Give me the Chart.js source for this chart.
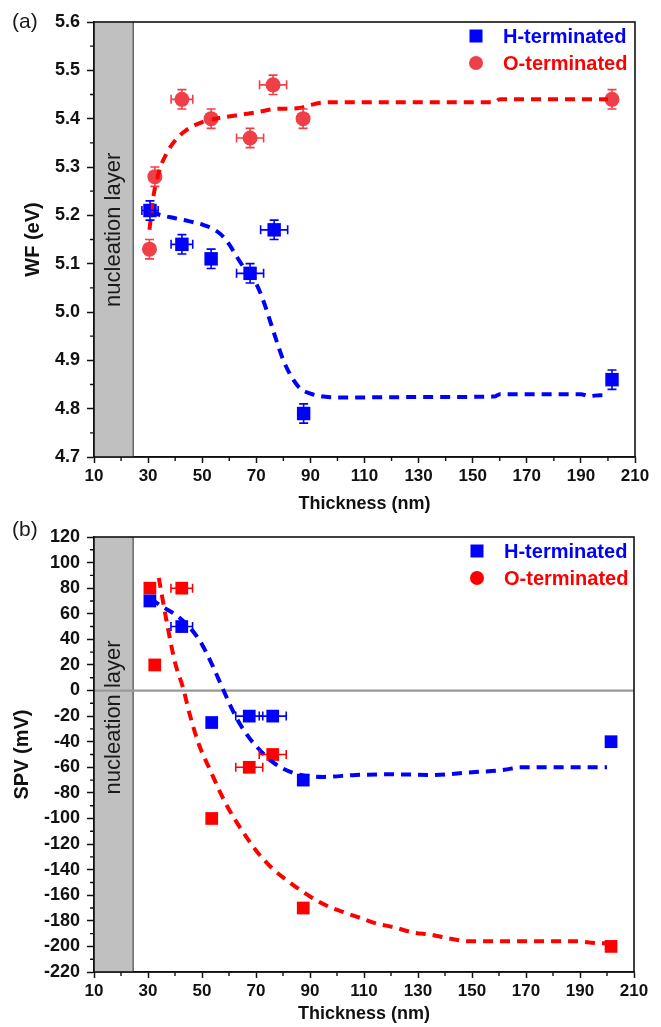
<!DOCTYPE html>
<html><head><meta charset="utf-8">
<script src="https://cdn.jsdelivr.net/npm/chart.js@4"></script>
<style>
html,body{margin:0;padding:0;background:#fff;width:661px;height:1027px;overflow:hidden}
#wa{position:absolute;left:0;top:0;width:661px;height:518px}
#wb{position:absolute;left:0;top:518px;width:661px;height:509px}
</style>
</head><body>
<div id="wa"><canvas id="ca" width="661" height="518"></canvas></div>
<div id="wb"><canvas id="cb" width="661" height="509"></canvas></div>
<script>
// ---------- Panel (a): work function ----------
const wfThickH = [30.7, 42.5, 53.3, 67.7, 76.6, 87.5, 201.5];
const wfH      = [5.21, 5.14, 5.11, 5.08, 5.17, 4.79, 4.86];
const wfH_xErr = [3, 4, 0, 5, 5, 0, 0];
const wfH_yErr = [0.02, 0.02, 0.02, 0.02, 0.02, 0.02, 0.02];

const wfThickO = [30.5, 32.5, 42.5, 53.3, 67.7, 76.2, 87.3, 201.5];
const wfO      = [5.13, 5.28, 5.44, 5.40, 5.36, 5.47, 5.40, 5.44];
const wfO_xErr = [0, 0, 4, 0, 5, 5, 0, 0];
const wfO_yErr = [0.02, 0.02, 0.02, 0.02, 0.02, 0.02, 0.02, 0.02];

const wfFitH_x = [31, 35, 40, 45, 50, 54, 57, 60, 62.5, 66, 70, 72.5, 75, 77.5, 80, 83, 86, 90, 95, 100, 130, 158, 160, 190, 193, 197, 200];
const wfFitH_y = [5.207, 5.2, 5.194, 5.188, 5.181, 5.172, 5.16, 5.14, 5.117, 5.087, 5.058, 5.025, 4.983, 4.94, 4.90, 4.866, 4.843, 4.831, 4.825, 4.823, 4.824, 4.825, 4.83, 4.83, 4.826, 4.828, 4.828];

const wfFitO_x = [30.5, 32, 34, 37, 40, 44, 50, 55, 63, 70, 77, 86, 90, 94, 100, 130, 158, 160, 200];
const wfFitO_y = [5.17, 5.24, 5.29, 5.33, 5.355, 5.376, 5.393, 5.40, 5.407, 5.413, 5.42, 5.422, 5.428, 5.433, 5.434, 5.434, 5.434, 5.44, 5.44];

// ---------- Panel (b): surface photovoltage ----------
const spvThickH = [30.7, 42.5, 53.6, 67.5, 76.2, 87.5, 201.5];
const spvH      = [70, 50, -25, -20, -20, -70, -40];
const spvH_xErr = [0, 4, 0, 5, 5, 0, 0];
const spvH_yErr = [3, 3, 3, 3, 3, 3, 3];

const spvThickO = [30.7, 32.5, 42.5, 53.6, 67.5, 76.2, 87.5, 201.5];
const spvO      = [80, 20, 80, -100, -60, -50, -170, -200];
const spvO_xErr = [0, 0, 4, 0, 5, 5, 0, 0];
const spvO_yErr = [3, 3, 3, 3, 3, 3, 3, 3];

const spvFitH_x = [31, 35, 41, 46, 50, 54, 58, 61, 64, 67.5, 70.3, 73, 76.2, 80, 84, 88, 95, 107, 121, 135, 149, 162, 168, 176, 200];
const spvFitH_y = [72, 66, 58, 48, 36, 19, 0, -14, -26, -37, -44, -50, -56, -61, -64.5, -66.5, -67.5, -66, -65.5, -66, -64, -62, -60, -60, -60];

const spvFitO_x = [34, 37, 40, 43, 45.5, 49, 53, 56.6, 60, 65, 70, 76, 82.5, 90, 97, 103.5, 109, 114.5, 121, 128, 135, 142, 149, 156, 169, 182, 188.5, 196.7, 200];
const spvFitO_y = [88, 53, 22, 2, -19, -43, -62, -79, -93, -110, -125, -139, -150, -161, -169, -174, -178, -182, -185, -189, -191, -194, -196, -196, -196, -196, -196, -197.5, -197.5];

// ticks / labels
const xTicksMajor = [10, 30, 50, 70, 90, 110, 130, 150, 170, 190, 210];
const seriesNames = ['H-terminated', 'O-terminated'];
const bandRange = [10, 24.5];

const FONT = '"Liberation Sans", Arial, sans-serif';
const BLUE = '#0000ff';
const RED = '#ff0000';
const RED_A = '#ef3f48';

function pts(xs, ys) { return xs.map((x, i) => ({x: x, y: ys[i]})); }

const decor = {
  id: 'decor',
  beforeDatasetsDraw(chart, args, o) {
    const {ctx, chartArea: ca, scales: {x, y}} = chart;
    const x0 = x.getPixelForValue(o.band[0]), x1 = x.getPixelForValue(o.band[1]);
    ctx.save();
    ctx.fillStyle = '#c0c0c0';
    ctx.fillRect(x0, ca.top, x1 - x0, ca.bottom - ca.top);
    ctx.strokeStyle = '#4a4a4a'; ctx.lineWidth = 1.2;
    ctx.beginPath(); ctx.moveTo(x1, ca.top); ctx.lineTo(x1, ca.bottom); ctx.stroke();
    if (o.zeroLine) {
      const y0 = y.getPixelForValue(0);
      ctx.strokeStyle = '#999'; ctx.lineWidth = 2.2;
      ctx.beginPath(); ctx.moveTo(ca.left, y0); ctx.lineTo(ca.right, y0); ctx.stroke();
    }
    ctx.translate((x0 + x1) / 2, y.getPixelForValue(o.bandTextY));
    ctx.rotate(-Math.PI / 2);
    ctx.font = '22px ' + FONT; ctx.fillStyle = '#1a1a1a';
    ctx.textAlign = 'center'; ctx.textBaseline = 'middle';
    ctx.fillText('nucleation layer', 0, 0);
    ctx.restore();
  },
  afterDatasetsDraw(chart) {
    const {ctx, scales: {x, y}} = chart;
    ctx.save();
    chart.data.datasets.forEach(ds => {
      if (!ds.errX) return;
      ctx.strokeStyle = ds.backgroundColor; ctx.lineWidth = 1.6;
      ds.data.forEach((p, i) => {
        const px = x.getPixelForValue(p.x), py = y.getPixelForValue(p.y);
        const ex = ds.errX[i], ey = ds.errY[i];
        ctx.beginPath();
        if (ey) {
          const t = y.getPixelForValue(p.y + ey), b = y.getPixelForValue(p.y - ey);
          ctx.moveTo(px, t); ctx.lineTo(px, b);
          ctx.moveTo(px - 4.5, t); ctx.lineTo(px + 4.5, t);
          ctx.moveTo(px - 4.5, b); ctx.lineTo(px + 4.5, b);
        }
        if (ex) {
          const l = x.getPixelForValue(p.x - ex), r = x.getPixelForValue(p.x + ex);
          ctx.moveTo(l, py); ctx.lineTo(r, py);
          ctx.moveTo(l, py - 4.5); ctx.lineTo(l, py + 4.5);
          ctx.moveTo(r, py - 4.5); ctx.lineTo(r, py + 4.5);
        }
        ctx.stroke();
      });
    });
    ctx.restore();
  },
  afterDraw(chart, args, o) {
    const {ctx, chartArea: ca, scales: {x, y}} = chart;
    ctx.save();
    ctx.strokeStyle = '#111'; ctx.lineWidth = 1.6;
    ctx.strokeRect(ca.left, ca.top, ca.right - ca.left, ca.bottom - ca.top);
    ctx.lineWidth = 1.4;
    ctx.beginPath();
    for (let v = o.xMinor[0]; v <= o.xMinor[1]; v += o.xMinor[2]) {
      const px = x.getPixelForValue(v);
      ctx.moveTo(px, ca.bottom); ctx.lineTo(px, ca.bottom + 4);
    }
    for (let k = 0; k < o.yMinor.length; k++) {
      const py = y.getPixelForValue(o.yMinor[k]);
      ctx.moveTo(ca.left, py); ctx.lineTo(ca.left - 4, py);
    }
    ctx.stroke();
    ctx.fillStyle = '#1a1a1a';
    ctx.font = '21px ' + FONT; ctx.textAlign = 'left'; ctx.textBaseline = 'middle';
    ctx.fillText(o.panel, 12, o.panelY);
    ctx.font = 'bold 20px ' + FONT;
    o.legend.forEach(it => {
      ctx.fillStyle = it.marker;
      if (it.style === 'rect') ctx.fillRect(o.legX - 6.5, it.y - 6.5, 13, 13);
      else { ctx.beginPath(); ctx.arc(o.legX, it.y, 7, 0, Math.PI * 2); ctx.fill(); }
      ctx.fillStyle = it.color;
      ctx.fillText(it.text, o.legX + 27, it.y + 1);
    });
    ctx.restore();
  }
};

function axes(cfg) {
  return {
    x: {
      type: 'linear', min: 10, max: 210,
      afterBuildTicks: s => { s.ticks = xTicksMajor.map(v => ({value: v})); },
      afterFit: s => { s.height = cfg.xH; },
      grid: {drawOnChartArea: false, drawTicks: true, tickLength: 6, tickColor: '#111', tickWidth: 1.5, color: '#111'},
      border: {display: true, color: '#111', width: 1.6},
      ticks: {color: '#111', padding: 3, maxRotation: 0, autoSkip: false,
              font: {family: FONT, size: 17, weight: 'bold'}, callback: v => String(v)},
      title: {display: true, text: 'Thickness (nm)', color: '#111',
              font: {family: FONT, size: 18, weight: 'bold'}, padding: {top: 0, bottom: cfg.xTitlePad}}
    },
    y: {
      type: 'linear', min: cfg.yMin, max: cfg.yMax,
      ticks: {stepSize: cfg.yStep, color: '#111', padding: 7, autoSkip: false,
              font: {family: FONT, size: 18, weight: 'bold'}, callback: cfg.yFmt},
      afterFit: s => { s.width = 94; },
      grid: {drawOnChartArea: false, drawTicks: true, tickLength: 7, tickColor: '#111', tickWidth: 1.5, color: '#111'},
      border: {display: true, color: '#111', width: 1.6},
      title: {display: true, text: cfg.yTitle, color: '#111',
              font: {family: FONT, size: 20, weight: 'bold'}, padding: {top: cfg.yTitlePad, bottom: 0}}
    }
  };
}

function fitDs(xs, ys, color) {
  return {type: 'scatter', data: pts(xs, ys), showLine: true, borderColor: color, borderWidth: 4,
          borderDash: [10, 7], pointRadius: 0, cubicInterpolationMode: 'monotone', fill: false, order: 1};
}
function ptDs(label, xs, ys, ex, ey, color, style, r) {
  return {label: label, type: 'scatter', data: pts(xs, ys), errX: ex, errY: ey,
          backgroundColor: color, borderColor: color, borderWidth: 0,
          pointStyle: style, pointRadius: r, order: 2};
}

const common = {
  responsive: false, animation: false, maintainAspectRatio: false,
  plugins: {legend: {display: false}, tooltip: {enabled: false}}
};

new Chart(document.getElementById('ca'), {
  type: 'scatter',
  data: {datasets: [
    fitDs(wfFitO_x, wfFitO_y, RED),
    fitDs(wfFitH_x, wfFitH_y, BLUE),
    ptDs(seriesNames[0], wfThickH, wfH, wfH_xErr, wfH_yErr, BLUE, 'rect', 9.5),
    ptDs(seriesNames[1], wfThickO, wfO, wfO_xErr, wfO_yErr, RED_A, 'circle', 7.5)
  ]},
  options: Object.assign({}, common, {
    layout: {padding: {top: 22, right: 26, left: 0, bottom: 0}},
    scales: axes({xH: 61, xTitlePad: 3, yMin: 4.7, yMax: 5.6, yStep: 0.1,
                  yFmt: v => Number(v).toFixed(1), yTitle: 'WF (eV)', yTitlePad: 21}),
    plugins: Object.assign({}, common.plugins, {
      decor: {band: bandRange, bandTextY: 5.17, zeroLine: false, panel: '(a)', panelY: 22,
              xMinor: [20, 200, 20],
              yMinor: [4.75, 4.85, 4.95, 5.05, 5.15, 5.25, 5.35, 5.45, 5.55],
              legX: 476,
              legend: [{text: seriesNames[0], color: BLUE, marker: BLUE, style: 'rect', y: 36},
                       {text: seriesNames[1], color: RED, marker: RED_A, style: 'circle', y: 63}]}
    })
  }),
  plugins: [decor]
});

new Chart(document.getElementById('cb'), {
  type: 'scatter',
  data: {datasets: [
    fitDs(spvFitO_x, spvFitO_y, RED),
    fitDs(spvFitH_x, spvFitH_y, BLUE),
    ptDs(seriesNames[0], spvThickH, spvH, spvH_xErr, spvH_yErr, BLUE, 'rect', 9),
    ptDs(seriesNames[1], spvThickO, spvO, spvO_xErr, spvO_yErr, RED, 'rect', 9)
  ]},
  options: Object.assign({}, common, {
    layout: {padding: {top: 19, right: 27, left: 0, bottom: 0}},
    scales: axes({xH: 55, xTitlePad: 2, yMin: -220, yMax: 120, yStep: 20,
                  yFmt: v => String(Math.round(v)), yTitle: 'SPV (mV)', yTitlePad: 10}),
    plugins: Object.assign({}, common.plugins, {
      decor: {band: bandRange, bandTextY: -21, zeroLine: true, panel: '(b)', panelY: 12,
              xMinor: [20, 200, 20],
              yMinor: [-210, -190, -170, -150, -130, -110, -90, -70, -50, -30, -10, 10, 30, 50, 70, 90, 110],
              legX: 477,
              legend: [{text: seriesNames[0], color: BLUE, marker: BLUE, style: 'rect', y: 33},
                       {text: seriesNames[1], color: RED, marker: RED, style: 'circle', y: 60}]}
    })
  }),
  plugins: [decor]
});
</script>
</body></html>
